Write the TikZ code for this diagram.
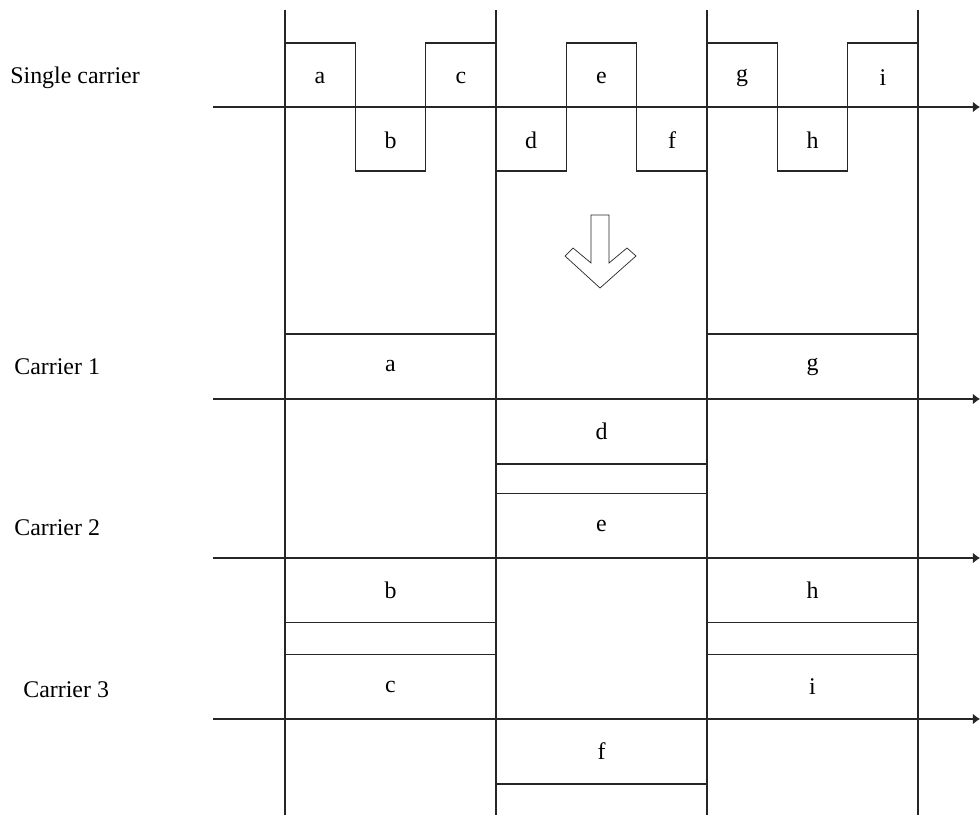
\documentclass[tikz,border=0pt]{standalone}
\usepackage{fontspec}
\setmainfont{Liberation Serif}
\usepackage{tikz}
\usetikzlibrary{arrows.meta}

\begin{document}
\begin{tikzpicture}[
      line/.style={line width=0.6pt, draw=black!85},
      axis/.style={line, -{Latex[length=4pt,width=6pt]}},
      slot/.style={line, minimum width=4.22cm, minimum height=1.3cm, inner sep=0pt, font=\fontsize{13.6}{16}\selectfont},
      sym/.style={inner sep=0pt, font=\fontsize{13.6}{16}\selectfont},
      lbl/.style={anchor=west, inner sep=0pt, font=\fontsize{13.6}{16}\selectfont}
    ]
      \useasboundingbox (0,0) rectangle (19.6,16.36);

      % symbol boundaries
      \foreach \x in {5.7,9.92,14.14,18.36}
        \draw[line] (\x,16.16) -- (\x,0.06);

      % carrier axes
      \node[lbl] (single) at (0.2,14.8) {Single carrier};
      \node[lbl] (car1) at (0.28,9.02) {Carrier 1};
      \node[lbl] (car2) at (0.28,5.8) {Carrier 2};
      \node[lbl] (car3) at (0.46,2.56) {Carrier 3};
      \coordinate (s0) at (4.26,14.22); \coordinate (s1) at (19.6,14.22);
      \coordinate (c10) at (4.26,8.38); \coordinate (c11) at (19.6,8.38);
      \coordinate (c20) at (4.26,5.2);  \coordinate (c21) at (19.6,5.2);
      \coordinate (c30) at (4.26,1.98); \coordinate (c31) at (19.6,1.98);
      \draw[axis] (s0) -- (s1);
      \draw[axis] (c10) -- (c11);
      \draw[axis] (c20) -- (c21);
      \draw[axis] (c30) -- (c31);

      % single carrier waveform
      \draw[line] (5.7,15.5) -- (7.107,15.5) -- (7.107,12.94) -- (8.513,12.94)
        -- (8.513,15.5) -- (9.92,15.5) -- (9.92,12.94) -- (11.327,12.94)
        -- (11.327,15.5) -- (12.733,15.5) -- (12.733,12.94) -- (14.14,12.94)
        -- (14.14,15.5) -- (15.547,15.5) -- (15.547,12.94) -- (16.953,12.94)
        -- (16.953,15.5) -- (18.36,15.5);
      \node[sym] (wa) at (6.4,14.8) {a};
      \node[sym] (wb) at (7.81,13.56) {b};
      \node[sym] (wc) at (9.22,14.8) {c};
      \node[sym] (wd) at (10.62,13.56) {d};
      \node[sym] (we) at (12.03,14.8) {e};
      \node[sym] (wf) at (13.44,13.56) {f};
      \node[sym] (wg) at (14.84,14.8) {g};
      \node[sym] (wh) at (16.25,13.56) {h};
      \node[sym] (wi) at (17.66,14.8) {i};

      % hollow arrow
      \draw[line, line width=0.4pt] (11.82,12.06) -- (12.18,12.06) -- (12.18,11.10) -- (12.54,11.4)
        -- (12.72,11.24) -- (12.0,10.6) -- (11.30,11.24) -- (11.46,11.4)
        -- (11.82,11.10) -- cycle;

      % parallel carriers
      \node[slot, draw] (pa) at (7.81,9.03) {a};
      \node[slot, draw] (pg) at (16.25,9.03) {g};
      \node[slot, draw] (pd) at (12.03,7.73) {d};
      \node[slot, draw] (pe) at (12.03,5.84) {e};
      \node[slot, draw] (pb) at (7.81,4.56) {b};
      \node[slot, draw] (ph) at (16.25,4.56) {h};
      \node[slot, draw] (pc) at (7.81,2.62) {c};
      \node[slot, draw] (pi) at (16.25,2.62) {i};
      \node[slot, draw] (pf) at (12.03,1.33) {f};
    \end{tikzpicture}
\end{document}
